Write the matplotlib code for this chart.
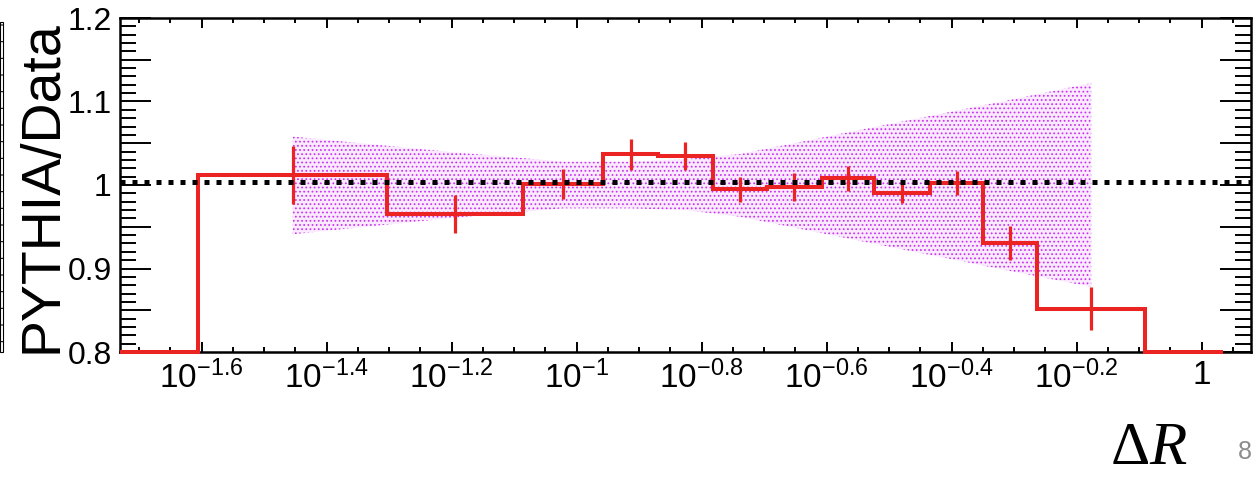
import numpy as np
import matplotlib
matplotlib.use('Agg')
import matplotlib.pyplot as plt
from matplotlib.ticker import FixedLocator, FixedFormatter, NullFormatter
from matplotlib.patches import Rectangle

plt.rcParams['font.family'] = ['Liberation Sans', 'DejaVu Sans']
plt.rcParams['mathtext.fontset'] = 'custom'
plt.rcParams['mathtext.rm'] = 'Liberation Sans'
plt.rcParams['mathtext.it'] = 'Liberation Sans:italic'
plt.rcParams['mathtext.bf'] = 'Liberation Sans:bold'
plt.rcParams['hatch.color'] = '#cc30f2'
plt.rcParams['hatch.linewidth'] = 0.75

# ---- data ----
bin_edges = [0.0186, 0.0248, 0.0498, 0.0822, 0.1104, 0.1349, 0.1652, 0.2014,
             0.2466, 0.2992, 0.3673, 0.4477, 0.5458, 0.8128, 1.084]
ratio = [0.80, 1.012, 0.965, 1.001, 1.037, 1.035, 0.995, 0.998,
         1.008, 0.991, 1.002, 0.931, 0.852, 0.80]
# statistical errors for the filled bins (bins 1..12)
ratio_err = [0.035, 0.0225, 0.018, 0.0185, 0.017, 0.015, 0.0166,
             0.0146, 0.012, 0.0144, 0.0204, 0.026]
# uncertainty band at the centres of bins 1..12
band_hi = [1.058, 1.039, 1.028, 1.028, 1.031, 1.037, 1.050, 1.063,
           1.076, 1.089, 1.102, 1.122]
band_lo = [0.941, 0.961, 0.972, 0.972, 0.970, 0.962, 0.949, 0.936,
           0.923, 0.910, 0.897, 0.878]
ref_level = 1.004

x_major_exp = [-1.6, -1.4, -1.2, -1.0, -0.8, -0.6, -0.4, -0.2, 0.0]
x_major_labels = [r'$10^{-1.6}$', r'$10^{-1.4}$', r'$10^{-1.2}$', r'$10^{-1}$',
                  r'$10^{-0.8}$', r'$10^{-0.6}$', r'$10^{-0.4}$', r'$10^{-0.2}$', '1']
y_major = [0.80, 0.85, 0.90, 0.95, 1.00, 1.05, 1.10, 1.15, 1.20]
y_major_labels = ['0.8', '', '0.9', '', '1', '', '1.1', '', '1.2']
y_label = 'PYTHIA/Data'
x_label_sym = 'Δ'
x_label_var = 'R'
page_number = '8'

# ---- figure ----
W, H = 1253, 478
fig = plt.figure(figsize=(W / 100, H / 100), dpi=100)
ax_l, ax_r, ax_t, ax_b = 120, 1251, 18, 352
ax = fig.add_axes([ax_l / W, 1 - ax_b / H, (ax_r - ax_l) / W, (ax_b - ax_t) / H])

edges = np.array(bin_edges)
centers = np.sqrt(edges[1:] * edges[:-1])[1:13]

red = '#ec2323'
# band
ax.fill_between(centers, band_lo, band_hi, facecolor='#faeafe', edgecolor='none',
                hatch='....', linewidth=0, zorder=1)
# histogram steps
ax.stairs(ratio, edges, baseline=None, color=red, linewidth=2.9, zorder=3, clip_on=False)
# error bars
ax.errorbar(centers, ratio[1:13], yerr=ratio_err, fmt='none', ecolor=red,
            elinewidth=2.3, capsize=0, zorder=3)
# reference dotted line
ax.axhline(ref_level, color='black', linewidth=3.6, linestyle=(0, (1, 1.4)),
           dash_capstyle='butt', zorder=4)

ax.set_xscale('log')
ax.set_xlim(0.0186, 1.2)
ax.set_ylim(0.8, 1.2)

ax.xaxis.set_major_locator(FixedLocator([10 ** e for e in x_major_exp]))
ax.xaxis.set_major_formatter(FixedFormatter(x_major_labels))
ax.xaxis.set_minor_locator(FixedLocator([10 ** (-1.75 + 0.05 * k) for k in range(38)]))
ax.xaxis.set_minor_formatter(NullFormatter())
ax.yaxis.set_major_locator(FixedLocator(y_major))
ax.yaxis.set_major_formatter(FixedFormatter(y_major_labels))
ax.yaxis.set_minor_locator(FixedLocator([0.8 + 0.01 * k for k in range(41)]))

ax.tick_params(which='both', direction='in', top=True, right=True, width=1.4, color='black')
ax.tick_params(axis='x', which='major', length=7.2, labelsize=24, pad=6)
ax.tick_params(axis='x', which='minor', length=3.6)
ax.tick_params(axis='y', which='major', length=22.5, labelsize=23, pad=6)
ax.tick_params(axis='y', which='minor', length=11.5)
for s in ax.spines.values():
    s.set_linewidth(1.8)

# y label
fig.text(43 / W, 1 - 187 / H, y_label, rotation=90, ha='center', va='center',
         fontsize=40, color='black')

# Delta R label
fig.text(1111 / W, 14 / H, x_label_sym, family='Liberation Serif', fontsize=44,
         ha='left', va='baseline')
fig.text(1149 / W, 14 / H, x_label_var, family='Liberation Serif', style='italic',
         fontsize=44, ha='left', va='baseline')
fig.text(1238 / W, 1 - 452 / H, page_number, fontsize=18, color='#8c8c8c',
         ha='left', va='center')

# edge of a neighbouring box on the slide
fig.add_artist(Rectangle((0.3 / W, 1 - 352 / H), 2.5 / W, 330 / H, transform=fig.transFigure,
                         facecolor='none', edgecolor='black', linewidth=0.8, hatch='-'))

fig.savefig('out.png', dpi=100)
